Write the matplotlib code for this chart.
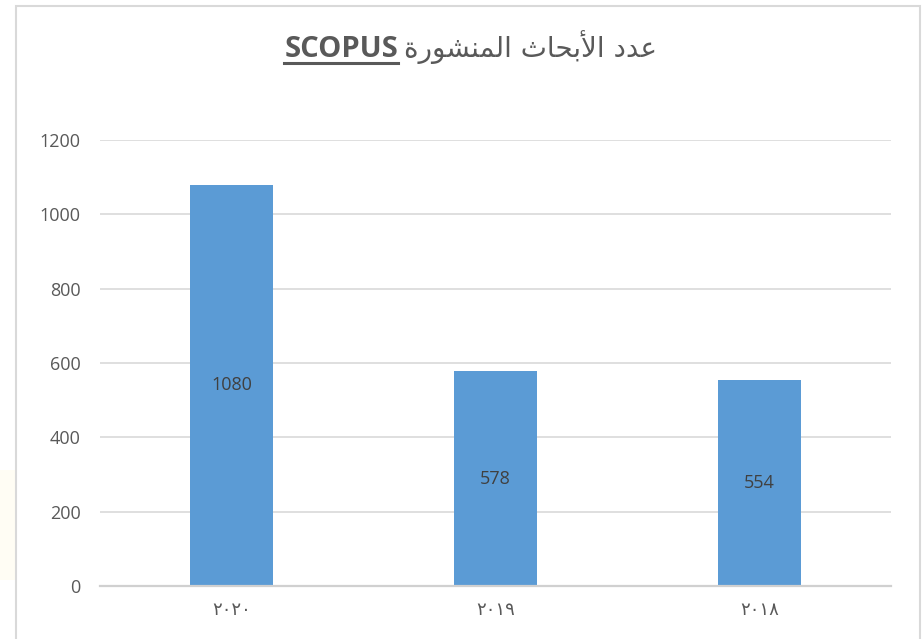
import matplotlib
matplotlib.use('Agg')
import matplotlib.pyplot as plt
import matplotlib.patches as patches
from matplotlib.lines import Line2D
import numpy as np

# data
years = ['\u0662\u0660\u0662\u0660', '\u0662\u0660\u0661\u0669', '\u0662\u0660\u0661\u0668']  # ٢٠٢٠ ٢٠١٩ ٢٠١٨
papers = [1080, 578, 554]

# title "عدد الأبحاث المنشورة" written in shaped (presentation) forms, visual order
title_ar = ('\uFE93\uFEAD\uFEEE\uFEB8\uFEE8\uFEE4\uFEDF\uFE8D '
            '\uFE99\uFE8E\uFEA4\uFE91\uFEF7\uFE8D '
            '\uFEA9\uFEAA\uFECB')
title_en = 'SCOPUS'

W, H = 924, 639
fig = plt.figure(figsize=(W / 100, H / 100), dpi=100)
fig.patch.set_facecolor('white')

# chart border and faint glow at the left edge
fig.patches.append(patches.Rectangle((0, 1 - 580 / H), 15 / W, 110 / H, transform=fig.transFigure,
                                     facecolor='#FFFCE0', edgecolor='none', alpha=0.35))
fig.patches.append(patches.Rectangle((16 / W, -0.05), (920 - 16) / W, 1.05 - 6 / H,
                                     transform=fig.transFigure, fill=False,
                                     edgecolor='#D9D9D9', lw=1.5))

ax = fig.add_axes([100 / W, 1 - 586 / H, 791 / W, (586 - 140) / H])
x = np.arange(len(years))
bars = ax.bar(x, papers, width=0.315, color='#5B9BD5', zorder=3)
ax.bar_label(bars, labels=[str(v) for v in papers], label_type='center',
             color='#404040', fontsize=13, family='Open Sans')

ax.set_xlim(-0.5, 2.5)
ax.set_ylim(0, 1200)
ax.set_yticks(np.arange(0, 1201, 200))
ax.set_xticks(x)
ax.set_xticklabels(years, family='DejaVu Sans', fontsize=13, color='#595959')
for lab in ax.get_yticklabels():
    lab.set_family('Open Sans')
    lab.set_fontsize(13)
    lab.set_color('#595959')
ax.tick_params(axis='y', length=0, pad=14)
ax.tick_params(axis='x', length=0, pad=11)
ax.grid(axis='y', color='#D9D9D9', lw=1.2, zorder=0)
for s in ['top', 'right', 'left']:
    ax.spines[s].set_visible(False)
ax.spines['bottom'].set_color('#D0D0D0')
ax.spines['bottom'].set_linewidth(1.6)
ax.spines['bottom'].set_zorder(4)

# title: bold underlined SCOPUS on the left, Arabic on the right
t_en = fig.text(398 / W, 1 - 57 / H, title_en, ha='right', va='baseline',
                fontsize=21, fontweight='bold', family='Open Sans', color='#595959')
t_ar = fig.text(404 / W, 1 - 57 / H, title_ar, ha='left', va='baseline',
                fontsize=20, family='DejaVu Sans', color='#595959')
fig.canvas.draw()
bb = t_en.get_window_extent(renderer=fig.canvas.get_renderer())
fig.add_artist(Line2D([bb.x0 / W, bb.x1 / W], [1 - 63 / H, 1 - 63 / H],
                      transform=fig.transFigure, color='#595959', lw=2.2))

fig.savefig('out.png', dpi=100)
